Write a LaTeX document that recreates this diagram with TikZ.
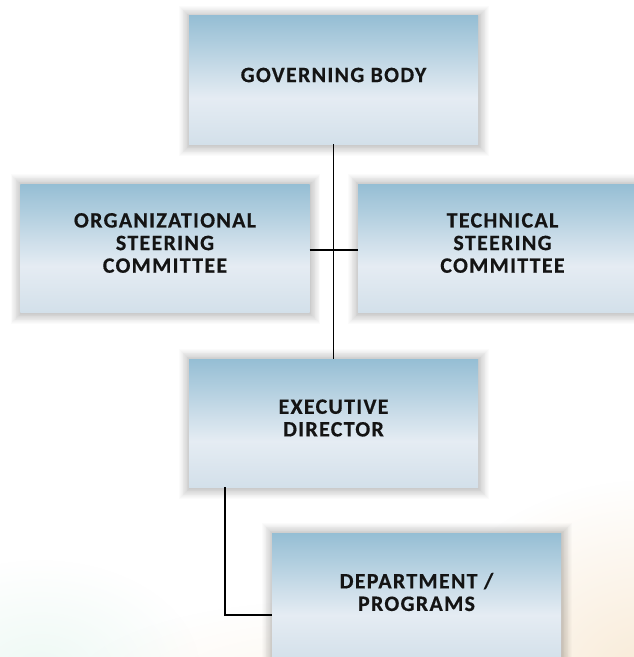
\documentclass[tikz,border=0pt]{standalone}
\usepackage{fontspec}
\setmainfont{Carlito}
\newfontfamily\boxfont[LetterSpace=6,FakeBold=0.5]{Carlito}
\usetikzlibrary{fadings,calc}
\definecolor{btop}{HTML}{95BED4}
\definecolor{blight}{HTML}{E5ECF3}
\definecolor{bbot}{HTML}{D3E0EA}
\definecolor{peach}{HTML}{F6E3C8}
\definecolor{mint}{HTML}{DDF3EA}
\tikzfading[name=softout, inner color=transparent!0, outer color=transparent!100]
\pgfdeclareverticalshading{boxshade}{100bp}{color(0bp)=(bbot); color(25bp)=(bbot); color(43bp)=(blight); color(75bp)=(btop); color(100bp)=(btop)}
\pgfdeclarelayer{bg}
\pgfdeclarelayer{shadowlayer}
\pgfsetlayers{bg,shadowlayer,main}
\tikzset{
  orgbox/.style={rectangle, minimum width=289bp, minimum height=128bp, inner sep=0pt,
    shading=boxshade},
  lbl/.style={align=center, yshift=5bp, font=\boxfont\bfseries\fontsize{22}{22.7}\selectfont, text=black!92},
  conn/.style={line width=1.7bp, black},
  shadowstep/.style={fill=black, opacity=0.016}
}
\begin{document}
\begin{tikzpicture}[x=1bp,y=-1bp]
\useasboundingbox (0,0) rectangle (634,657);
\clip (0,0) rectangle (634,657);
\begin{pgfonlayer}{bg}
\fill[white] (0,0) rectangle (634,657);
\fill[peach, path fading=softout, opacity=0.75] (650,680) ellipse (240 and 200);
\fill[peach, path fading=softout, opacity=0.3] (330,690) ellipse (260 and 90);
\fill[mint, path fading=softout, opacity=0.5] (40,670) ellipse (160 and 110);
\end{pgfonlayer}
\node[orgbox, label={[lbl]center:GOVERNING BODY}] (gb) at (333.5,80) {};
\node[orgbox, label={[lbl]center:ORGANIZATIONAL\\STEERING\\COMMITTEE}] (org) at (165,248) {};
\node[orgbox, label={[lbl]center:TECHNICAL\\STEERING\\COMMITTEE}] (tech) at (502.5,248) {};
\node[orgbox, label={[lbl]center:EXECUTIVE\\DIRECTOR}] (exec) at (333.5,423) {};
\node[orgbox, label={[lbl]center:DEPARTMENT /\\PROGRAMS}] (dept) at (416.5,597) {};
\begin{pgfonlayer}{shadowlayer}
\foreach \n in {gb,org,tech,exec,dept}{
  \foreach \k in {0.8,1.6,...,11.2}{
    \fill[shadowstep] ($(\n.south west)+(-\k+1,\k+1)$) rectangle ($(\n.north east)+(\k,-\k+1)$);
  }
}
\end{pgfonlayer}
\draw[conn] (gb.south) -- (exec.north);
\draw[conn] ($(org.east)+(0,2)$) -- ($(tech.west)+(0,2)$);
\coordinate (dj) at ($(dept.west)+(0,18)$);
\draw[conn] ($(exec.south west)+(36,0)$) |- (dj);
\end{tikzpicture}
\end{document}
